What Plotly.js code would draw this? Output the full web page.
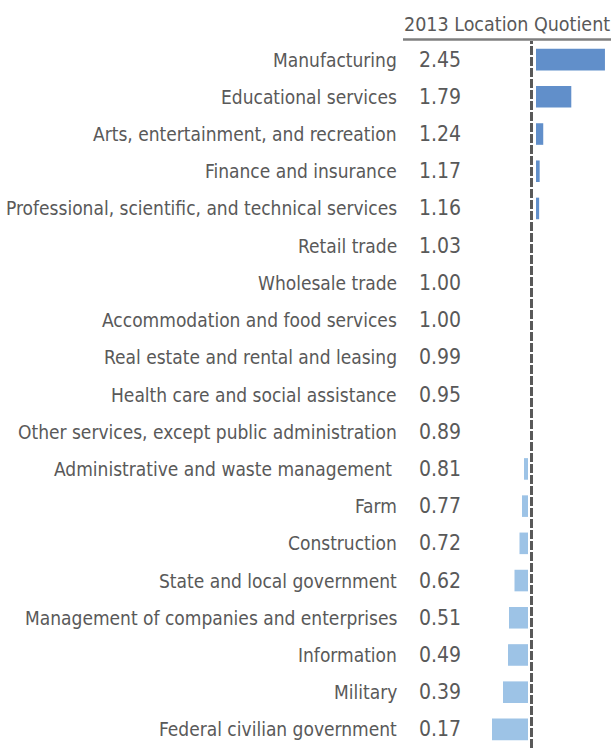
<!DOCTYPE html>
<html><head><meta charset="utf-8">
<script src="https://cdn.plot.ly/plotly-3.0.1.min.js"></script>
<style>html,body{margin:0;padding:0;background:#fff}</style>
</head><body>
<div id="chart" style="width:611px;height:748px"></div>
<script>
var categories = [
  "Manufacturing","Educational services","Arts, entertainment, and recreation",
  "Finance and insurance","Professional, scientific, and technical services",
  "Retail trade","Wholesale trade","Accommodation and food services",
  "Real estate and rental and leasing","Health care and social assistance",
  "Other services, except public administration","Administrative and waste management ",
  "Farm","Construction","State and local government",
  "Management of companies and enterprises","Information","Military",
  "Federal civilian government"
];
var lq2013 = [2.45,1.79,1.24,1.17,1.16,1.03,1.00,1.00,0.99,0.95,0.89,0.81,0.77,0.72,0.62,0.51,0.49,0.39,0.17];
var headerText = "2013 Location Quotient";

var FONT = "'DejaVu Sans Condensed', 'Liberation Sans Narrow', sans-serif";
var TXT = "#595959";

var aboveCats = [], aboveVals = [], belowCats = [], belowVals = [];
categories.forEach(function(c, i){
  if (lq2013[i] >= 1) { aboveCats.push(c); aboveVals.push(lq2013[i] - 1); }
  else { belowCats.push(c); belowVals.push(lq2013[i] - 1); }
});

var traceBelow = {
  type: "bar", orientation: "h", y: belowCats, x: belowVals, base: 1,
  marker: {color: "#9DC3E6"}, width: 0.58, hoverinfo: "skip", xaxis: "x", yaxis: "y"
};
var traceAbove = {
  type: "bar", orientation: "h", y: aboveCats, x: aboveVals, base: 1,
  marker: {color: "#618FCA"}, width: 0.58, hoverinfo: "skip", xaxis: "x2", yaxis: "y"
};

var annotations = [];
categories.forEach(function(c, i){
  annotations.push({xref:"paper", yref:"y", x:399/611, y:c, text:c, showarrow:false,
    xanchor:"right", yanchor:"middle", font:{family:FONT, size:19, color:TXT}});
  annotations.push({xref:"paper", yref:"y", x:417/611, y:c, text:lq2013[i].toFixed(2), showarrow:false,
    xanchor:"left", yanchor:"middle", font:{family:FONT, size:21, color:TXT}});
});
annotations.push({xref:"paper", yref:"paper", x:1, xshift:1, y:1, yshift:3, text:headerText, showarrow:false,
  xanchor:"right", yanchor:"bottom", font:{family:FONT, size:19.5, color:TXT}});

var PXN = 50, ZN = 53.5, PXP = 51, ZP = 51, SPAN = 131;
var layout = {
  width: 611, height: 748,
  margin: {l:0, r:0, t:41, b:0},
  paper_bgcolor: "#fff", plot_bgcolor: "#fff",
  showlegend: false,
  xaxis: {domain:[480/611, 1], range:[1-ZN/PXN, 1+(SPAN-ZN)/PXN], visible:false, fixedrange:true},
  xaxis2: {domain:[480/611, 1], range:[1-ZP/PXP, 1+(SPAN-ZP)/PXP], visible:false, overlaying:"x", anchor:"y"},
  yaxis: {type:"category", visible:false, range:[18.5,-0.5], categoryorder:"array", categoryarray:categories},
  annotations: annotations,
  shapes: [
    {type:"rect", xref:"x2", yref:"paper", x0:1-3/PXP, x1:1+5/PXP, y0:0, y1:1,
      fillcolor:"#fff", line:{width:0}},
    {type:"line", xref:"paper", yref:"paper", x0:403/611, x1:1, y0:1.002, y1:1.002,
      line:{color:"#7f7f7f", width:2.5}},
    {type:"line", xref:"x2", yref:"paper", x0:1+0.5/PXP, x1:1+0.5/PXP, y0:0, y1:1,
      line:{color:"#595959", width:3, dash:"9px,2px"}}
  ]
};

Plotly.newPlot("chart", [traceBelow, traceAbove], layout, {displayModeBar:false, staticPlot:true});
</script>
</body></html>
